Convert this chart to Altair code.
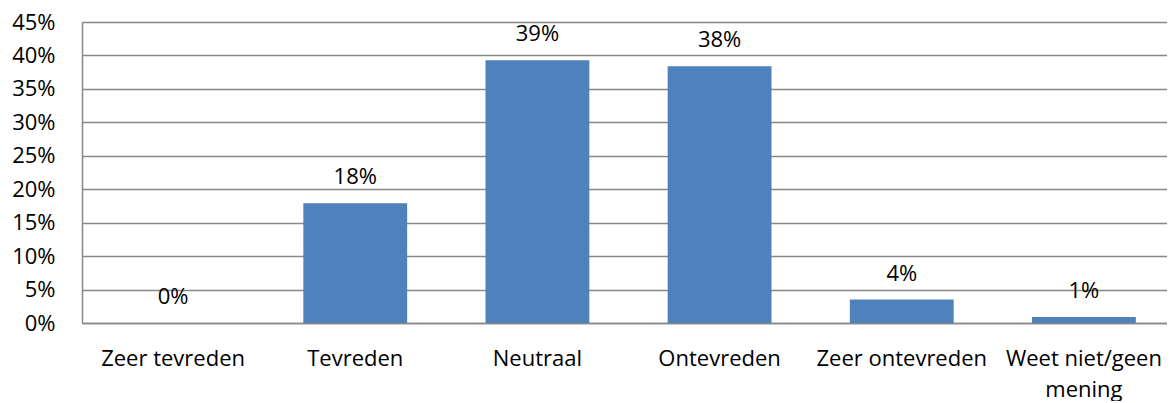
import altair as alt
import pandas as pd

categories = ["Zeer tevreden", "Tevreden", "Neutraal", "Ontevreden", "Zeer ontevreden", "Weet niet/geen|mening"]
values = [0.0, 0.179, 0.393, 0.384, 0.035, 0.009]
labels = ["0%", "18%", "39%", "38%", "4%", "1%"]
y_ticks = [0, 0.05, 0.10, 0.15, 0.20, 0.25, 0.30, 0.35, 0.40, 0.45]

df = pd.DataFrame({"cat": categories, "val": values, "lab": labels})

FONT = "Open Sans"
FS = 22
GRAY = "#888888"

x = alt.X("cat:N", sort=categories, title=None,
          scale=alt.Scale(paddingInner=0.43, paddingOuter=0.215, range=[0, 1093]),
          axis=alt.Axis(labelAngle=0, labelFontSize=FS, labelFont=FONT, labelColor="#000000",
                        labelPadding=25, ticks=False, domainColor=GRAY, domainWidth=1.5,
                        labelExpr="split(datum.label, '|')", labelLineHeight=31,
                        labelLimit=0, labelOverlap=False))
y = alt.Y("val:Q", title=None,
          scale=alt.Scale(domain=[0, 0.45], nice=False),
          axis=alt.Axis(values=y_ticks, tickCount=10, format=".0%", labelFontSize=FS, labelFont=FONT,
                        labelColor="#000000", labelPadding=27, ticks=False, labelOverlap=False,
                        domainColor=GRAY, domainWidth=1.5,
                        gridColor=GRAY, gridWidth=1.5, gridOpacity=1))

bars = alt.Chart(df).mark_bar(color="#4F81BD").encode(x=x, y=y)
text = alt.Chart(df).mark_text(baseline="alphabetic", dy=-19, fontSize=FS, font=FONT, color="#000000").encode(
    x=alt.X("cat:N", sort=categories), y="val:Q", text="lab:N")

chart = (bars + text).properties(
    width=1085, height=301,
    autosize=alt.AutoSizeParams(type="none"),
    padding={"left": 74, "top": 14, "right": 0, "bottom": 78},
).configure_view(stroke=None).configure(background="white")

chart.save("out.html", embed_options={"renderer": "svg", "actions": False})
